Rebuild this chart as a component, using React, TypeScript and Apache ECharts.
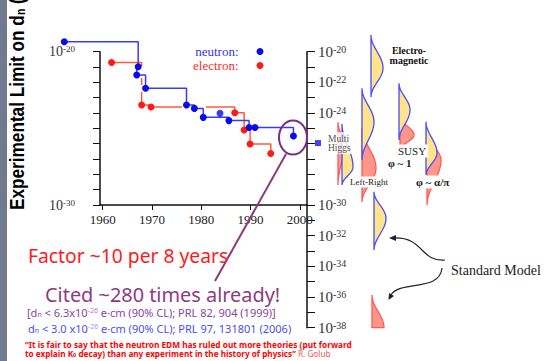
import React, { useEffect, useRef } from 'react';
import * as echarts from 'echarts';

// ---- measured limits on d (e·cm), left panel ----
const neutronYears = [1952.2, 1967.2, 1966.9, 1968.7, 1977.0, 1978.6, 1980.4, 1985.6, 1989.7, 1990.9, 1998.7];
const neutronLimits = [4.5e-20, 1.05e-21, 3.0e-22, 4.1e-23, 3.3e-24, 2.0e-24, 5.2e-25, 3.2e-25, 1.15e-25, 1.15e-25, 3.2e-26];
const neutronExtraYears = [1983.8];
const neutronExtraLimits = [9.5e-25];
const electronYears = [1961.8, 1967.9, 1969.8, 1986.8, 1988.7, 1989.9, 1994.1];
const electronLimits = [2.0e-21, 3.3e-24, 2.5e-24, 1.05e-24, 7.8e-26, 9.6e-27, 2.3e-27];
const yearTicks = [1960, 1970, 1980, 1990, 2000];

// ---- theory predictions (right panel), log10 of d on the right axis ----
const theoryKind = ['n', 'e', 'n', 'e', 'n', 'e', 'n', 'e', 'n', 'n', 'e'];
const theoryColumn = [64, 55, 55, 31, 35, 93, 92, 120, 119, 67, 65];
const theoryTopLog10 = [-18.91, -24.98, -22.39, -24.6, -24.72, -24.26, -22.06, -25.3, -24.57, -29.13, -35.87];
const theoryPeakLog10 = [-21.06, -27.59, -24.57, -26.09, -27.52, -25.43, -23.8, -27.06, -26.61, -30.87, -38.0];
const theoryBottomLog10 = [-22.95, -29.8, -27.06, -28.7, -28.7, -26.41, -25.76, -30.0, -28.04, -32.94, -38.0];
const theoryWidth = [12, 14, 12, 6, 11, 14, 11, 14, 11, 12, 12];
const multiHiggsColumn = [11];
const multiHiggsLimit = [1.1e-26];
const rightLabelExps = [-20, -22, -24, -30, -32, -34, -36, -38];

const SERIF = '"Liberation Serif", "Times New Roman", serif';
const SANS = '"Noto Sans", sans-serif';
const BOLD_SANS = '"Liberation Sans", Arial, sans-serif';

// the plot spans 1959.45..2001.45 over 207 px; the wide (hidden) frame adds the pre-1960 points
const X_MIN = 1959.45;
const X_MAX = 2001.45;
const WIDE_MIN = 1950;
const PX_PER_YEAR = 207 / (X_MAX - X_MIN);

const supRich = (big: number, small: number, color: string) => ({
  b: { fontSize: big, fontFamily: SERIF, color },
  s: { fontSize: small, fontFamily: SERIF, color, verticalAlign: 'top' },
});
const powLabel = (e: number) => `{b|10}{s|${Math.round(e)}}`;

const shapeData = (kind: string) =>
  theoryKind
    .map((k, i) => ({ k, i }))
    .filter((o) => o.k === kind)
    .map(({ i }) => [theoryColumn[i], theoryTopLog10[i], theoryPeakLog10[i], theoryBottomLog10[i], theoryWidth[i]]);

const renderShape = (fill: string, stroke: string) => (params: any, api: any) => {
  const x = api.value(0);
  const w = api.value(4);
  const top = api.coord([x, api.value(1)]);
  const peak = api.coord([x + w, api.value(2)]);
  const bot = api.coord([x, api.value(3)]);
  const pts: number[][] = [];
  const N = 16;
  for (let i = 0; i <= N; i++) {
    const t = i / N;
    const f = (1 - Math.cos(Math.PI * t)) / 2;
    pts.push([top[0] + (peak[0] - top[0]) * f, top[1] + (peak[1] - top[1]) * t]);
  }
  for (let i = 1; i <= N; i++) {
    const t = i / N;
    const f = (1 + Math.cos(Math.PI * t)) / 2;
    pts.push([bot[0] + (peak[0] - bot[0]) * f, peak[1] + (bot[1] - peak[1]) * t]);
  }
  return {
    type: 'polygon',
    shape: { points: pts },
    style: { fill, stroke, lineWidth: 1.3 },
  };
};

const txt = (x: number, y: number, text: string, style: any, extra: any = {}) => ({
  type: 'text',
  x,
  y,
  z: 100,
  ...extra,
  style: {
    text,
    textAlign: 'left',
    align: 'left',
    textVerticalAlign: 'middle',
    verticalAlign: 'middle',
    ...style,
  },
});

const whiteBox = (x: number, y: number, width: number, height: number) => ({
  type: 'rect',
  z: 3.5,
  shape: { x, y, width, height },
  style: { fill: '#ffffff' },
});

export default function App() {
  const ref = useRef<HTMLDivElement>(null);
  useEffect(() => {
    if (!ref.current) return;
    const chart = echarts.init(ref.current, null, { renderer: 'svg' });
    const legendBase = {
      orient: 'horizontal',
      align: 'right',
      icon: 'circle',
      itemWidth: 33,
      itemHeight: 7,
      padding: 0,
      right: 283.5,
      formatter: '{name}:',
      selectedMode: false,
      textStyle: { fontFamily: SERIF, fontSize: 13 },
    };
    const wideLeft = 100 - (X_MIN - WIDE_MIN) * PX_PER_YEAR;
    const option: any = {
      animation: false,
      backgroundColor: '#ffffff',
      grid: [
        { left: 100, top: 51.7, width: 207, height: 153.3 },
        { left: 307, top: 51.7, width: 240, height: 276 },
        { left: wideLeft, top: 51.7, width: 307 - wideLeft, height: 153.3 },
      ],
      legend: [
        { ...legendBase, top: 45, data: [{ name: 'neutron', textStyle: { color: '#3535ee' } }] },
        { ...legendBase, top: 59, data: [{ name: 'electron', textStyle: { color: '#ff2a2a' } }] },
      ],
      xAxis: [
        {
          type: 'value',
          gridIndex: 0,
          min: X_MIN,
          max: X_MAX,
          axisLine: { lineStyle: { color: '#111', width: 1.5 } },
          axisTick: { show: true, customValues: yearTicks, length: 5, lineStyle: { color: '#111' } },
          axisLabel: {
            customValues: yearTicks,
            margin: 8,
            fontFamily: SERIF,
            fontSize: 13,
            color: '#222',
            formatter: (v: number) => String(Math.round(v)),
          },
          splitLine: { show: false },
        },
        { type: 'value', gridIndex: 1, min: 0, max: 240, show: false },
        { type: 'value', gridIndex: 2, min: WIDE_MIN, max: X_MAX, show: false },
      ],
      yAxis: [
        {
          type: 'value',
          gridIndex: 0,
          min: -30,
          max: -20,
          interval: 1,
          axisLine: { show: true, lineStyle: { color: '#111', width: 1.5 } },
          axisTick: { show: true, length: 7, lineStyle: { color: '#111' } },
          axisLabel: {
            margin: 25,
            formatter: (v: number) => (v === -20 || v === -30 ? powLabel(v) : ''),
            rich: supRich(14, 9, '#333'),
          },
          splitLine: { show: false },
        },
        {
          type: 'value',
          gridIndex: 1,
          position: 'left',
          min: -38,
          max: -20,
          interval: 1,
          axisLine: { show: true, lineStyle: { color: '#111', width: 1.5 } },
          axisTick: { show: true, inside: true, length: 8, lineStyle: { color: '#111' } },
          axisLabel: {
            inside: true,
            margin: 11,
            formatter: (v: number) => (rightLabelExps.includes(Math.round(v)) ? powLabel(v) : ''),
            rich: supRich(15, 10, '#333'),
          },
          splitLine: { show: false },
        },
        { type: 'value', gridIndex: 2, min: -30, max: -20, show: false },
      ],
      series: [
        {
          type: 'custom',
          name: 'electron predictions',
          xAxisIndex: 1,
          yAxisIndex: 1,
          renderItem: renderShape('#ff968c', '#ff5a4e'),
          data: shapeData('e'),
          encode: { x: 0, y: [1, 2, 3] },
          clip: false,
          silent: true,
        },
        {
          type: 'custom',
          name: 'neutron predictions',
          xAxisIndex: 1,
          yAxisIndex: 1,
          renderItem: renderShape('#ffe48a', '#4b4bff'),
          data: shapeData('n'),
          encode: { x: 0, y: [1, 2, 3] },
          clip: false,
          silent: true,
        },
        {
          type: 'scatter',
          name: 'Multi Higgs',
          xAxisIndex: 1,
          yAxisIndex: 1,
          symbol: 'rect',
          symbolSize: 6,
          itemStyle: { color: '#1414ee' },
          data: multiHiggsColumn.map((c, i) => [c, Math.log10(multiHiggsLimit[i])]),
          label: {
            show: true,
            position: 'right',
            distance: 5,
            formatter: 'Multi\nHiggs',
            fontFamily: SERIF,
            fontSize: 9.5,
            lineHeight: 9,
            color: '#222',
            backgroundColor: '#ffffff',
            padding: [2, 2, 2, 2],
          },
          z: 5,
        },
        {
          type: 'line',
          name: 'electron',
          step: 'end',
          xAxisIndex: 2,
          yAxisIndex: 2,
          data: electronYears.map((y, i) => [y, Math.log10(electronLimits[i])]),
          symbol: 'circle',
          symbolSize: 7,
          lineStyle: { color: '#ff5b3c', width: 1.5 },
          itemStyle: { color: '#ff1a1a' },
          clip: false,
          z: 3,
        },
        {
          type: 'line',
          name: 'neutron',
          step: 'end',
          xAxisIndex: 2,
          yAxisIndex: 2,
          data: neutronYears.map((y, i) => [y, Math.log10(neutronLimits[i])]),
          symbol: 'circle',
          symbolSize: 7,
          lineStyle: { color: '#3a3aff', width: 1.5 },
          itemStyle: { color: '#0a0aee' },
          clip: false,
          z: 4,
        },
        {
          type: 'scatter',
          name: 'neutron',
          xAxisIndex: 2,
          yAxisIndex: 2,
          data: neutronExtraYears.map((y, i) => [y, Math.log10(neutronExtraLimits[i])]),
          symbol: 'circle',
          symbolSize: 7,
          itemStyle: { color: '#0a0aee' },
          clip: false,
          z: 4,
        },
      ],
      graphic: [
        { type: 'rect', shape: { x: 0, y: 0, width: 7, height: 361 }, style: { fill: '#6f7a8f' }, z: 100 },
        // white patches behind the pasted neutron points (they hide parts of the electron line)
        whiteBox(133, 66, 19, 12),
        whiteBox(139, 85, 14, 7),
        whiteBox(182, 100, 24, 11),
        txt(
          17,
          210,
          'Experimental Limit on d{n|n} (',
          {
            fontFamily: BOLD_SANS,
            fontWeight: 'bold',
            fontSize: 20,
            fill: '#000',
            rich: {
              n: { fontSize: 12, fontWeight: 'bold', fontFamily: BOLD_SANS, verticalAlign: 'bottom' },
            },
          },
          { rotation: Math.PI / 2, scaleX: 0.86 }
        ),
        // theory labels
        txt(409, 55, 'Electro-\nmagnetic', { fontFamily: SERIF, fontWeight: 'bold', fontSize: 10, lineHeight: 10, fill: '#111', textAlign: 'center', align: 'center' }),
        txt(349, 182, 'Left-Right', { fontFamily: SERIF, fontSize: 9, fill: '#222', backgroundColor: '#fff', padding: [1, 1] }),
        txt(396, 151, 'SUSY', { fontFamily: SERIF, fontSize: 11, fill: '#222', backgroundColor: '#fff', padding: [1, 2] }),
        txt(388, 163, 'φ ~ 1', { fontFamily: SERIF, fontSize: 11, fontWeight: 'bold', fill: '#222' }),
        txt(415, 182, 'φ ~ α/π', { fontFamily: SERIF, fontSize: 11, fontWeight: 'bold', fill: '#222', backgroundColor: '#fff', padding: [1, 1] }),
        txt(451, 270, 'Standard Model', { fontFamily: SERIF, fontSize: 14, fill: '#222' }),
        // arrows
        { type: 'bezierCurve', z: 100, shape: { x1: 445, y1: 260, cpx1: 420, cpy1: 262, cpx2: 424, cpy2: 237, x2: 394, y2: 238 }, style: { stroke: '#222', lineWidth: 1.2, fill: 'none' } },
        { type: 'polygon', z: 100, shape: { points: [[389, 238], [396, 235], [396, 241]] }, style: { fill: '#222' } },
        { type: 'bezierCurve', z: 100, shape: { x1: 442, y1: 268, cpx1: 440, cpy1: 292, cpx2: 400, cpy2: 280, x2: 391, y2: 295 }, style: { stroke: '#222', lineWidth: 1.2, fill: 'none' } },
        { type: 'polygon', z: 100, shape: { points: [[388.5, 300], [394, 296], [389, 293]] }, style: { fill: '#222' } },
        // purple highlight
        { type: 'ellipse', z: 100, shape: { cx: 293, cy: 137.5, rx: 14, ry: 17 }, style: { stroke: '#7a2e86', lineWidth: 2, fill: 'none' } },
        { type: 'line', z: 100, shape: { x1: 286, y1: 154, x2: 215, y2: 281 }, style: { stroke: '#8a3b7c', lineWidth: 2 } },
        // bottom texts
        txt(28, 255, 'Factor ~10 per 8 years', { fontFamily: SANS, fontSize: 19.3, lineHeight: 20, fill: '#ff1a1a' }),
        txt(45, 294, 'Cited ~280 times already!', { fontFamily: SANS, fontSize: 19.9, lineHeight: 18, fill: '#8e3b82' }),
        txt(27, 312, '[d{n|n} < 6.3x10{s|-26} e·cm (90% CL); PRL 82, 904 (1999)]', {
          fontFamily: SANS,
          fontSize: 11,
          lineHeight: 11,
          fill: '#8844a6',
          rich: {
            n: { fontSize: 7, lineHeight: 11, fontFamily: SANS, fill: '#8844a6', verticalAlign: 'bottom' },
            s: { fontSize: 7, lineHeight: 11, fontFamily: SANS, fill: '#b080c8', verticalAlign: 'top' },
          },
        }),
        txt(28, 328, 'd{n|n} < 3.0 x10{s|-26} e·cm (90% CL); PRL 97, 131801 (2006)', {
          fontFamily: SANS,
          fontSize: 11,
          lineHeight: 11,
          fill: '#4d4df0',
          rich: {
            n: { fontSize: 7, lineHeight: 11, fontFamily: SANS, fill: '#4d4df0', verticalAlign: 'bottom' },
            s: { fontSize: 7, lineHeight: 11, fontFamily: SANS, fill: '#9a9af5', verticalAlign: 'top' },
          },
        }),
        txt(25, 344, '“It is fair to say that the neutron EDM has ruled out more theories (put forward', {
          fontFamily: SANS,
          fontWeight: 'bold',
          fontSize: 8.3,
          lineHeight: 9,
          fill: '#ff0000',
        }),
        txt(25, 353, 'to explain K{n|0} decay) than any experiment in the history of physics”{r| R. Golub}', {
          fontFamily: SANS,
          fontWeight: 'bold',
          fontSize: 8.2,
          lineHeight: 9,
          fill: '#ff0000',
          rich: {
            n: { fontSize: 5.5, lineHeight: 9, fontFamily: SANS, fontWeight: 'bold', fill: '#ff0000', verticalAlign: 'bottom' },
            r: { fontSize: 8.2, lineHeight: 9, fontFamily: SANS, fontWeight: 'normal', fill: '#ff5050' },
          },
        }),
      ],
    };
    chart.setOption(option);
    return () => chart.dispose();
  }, []);
  return (
    <div
      ref={ref}
      style={{ position: 'absolute', left: 0, top: 0, width: 547, height: 361 }}
    />
  );
}
